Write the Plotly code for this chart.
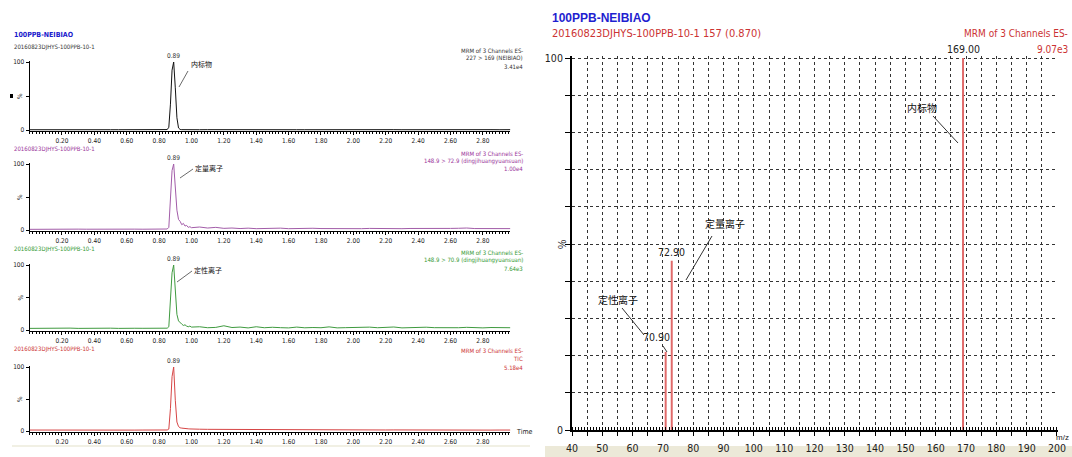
import plotly.graph_objects as go

W, H = 1072, 457
NARROW = "Liberation Sans Narrow, Arial Narrow, DejaVu Sans Condensed, Arial, sans-serif"
SANS = "Liberation Sans, Arial, sans-serif"
CJK = "Noto Sans CJK SC, sans-serif"

# ---------------- chromatogram data (retention time in min, relative intensity %) ----------------
TIME = [0.00, 0.05, 0.10, 0.15, 0.20, 0.25, 0.30, 0.35, 0.40, 0.45, 0.50, 0.55, 0.60, 0.65, 0.70, 0.75, 0.80, 0.85,
        0.86, 0.87, 0.88, 0.89, 0.90, 0.91, 0.92, 0.93, 0.94, 0.95, 0.96, 0.97, 0.98, 0.99, 1.00,
        1.05, 1.10, 1.15, 1.20, 1.25, 1.30, 1.35, 1.40, 1.45, 1.50, 1.55, 1.60, 1.65, 1.70, 1.75, 1.80, 1.85, 1.90,
        1.95, 2.00, 2.05, 2.10, 2.15, 2.20, 2.25, 2.30, 2.35, 2.40, 2.45, 2.50, 2.55, 2.60, 2.65, 2.70, 2.75, 2.80,
        2.85, 2.90, 2.95, 2.97]

NEIBIAO = [0.4, 0.5, 0.4, 0.5, 0.4, 0.4, 0.5, 0.4, 0.4, 0.5, 0.4, 0.4, 0.5, 0.4, 0.4, 0.5, 0.4, 0.6,
           4, 38, 88, 100, 62, 18, 3, 0.8, 0.5, 0.4, 0.5, 0.4, 0.5, 0.4, 0.5,
           0.4, 0.5, 0.4, 0.4, 0.5, 0.4, 0.5, 0.4, 0.4, 0.5, 0.4, 0.5, 0.4, 0.4, 0.5, 0.4, 0.5, 0.4, 0.4, 0.5,
           0.4, 0.5, 0.4, 0.4, 0.5, 0.4, 0.5, 0.4, 0.4, 0.5, 0.4, 0.5, 0.4, 0.4, 0.5, 0.4, 0.5, 0.4, 0.4, 0.5]

QUANT_729 = [1.0, 1.2, 1.1, 1.3, 1.2, 1.1, 1.3, 1.2, 1.4, 1.2, 1.3, 1.2, 1.4, 1.3, 1.2, 1.4, 1.3, 1.5,
             4, 42, 90, 100, 58, 30, 16, 13, 8, 10, 6, 7, 4, 5, 3.5,
             4.5, 3.0, 4.0, 2.5, 3.0, 2.2, 2.8, 2.0, 2.5, 2.2, 2.8, 2.0, 2.4, 2.1, 2.6, 2.2, 2.0, 2.5, 2.2, 2.3,
             2.0, 2.4, 2.1, 2.6, 2.2, 2.0, 2.3, 2.1, 2.5, 2.2, 2.0, 2.4, 2.6, 3.0, 2.2, 2.1, 2.4, 2.0, 2.2, 2.1]

QUAL_709 = [2.5, 2.8, 2.4, 3.0, 2.6, 2.9, 2.5, 2.7, 3.1, 2.6, 2.8, 2.5, 3.0, 2.7, 2.6, 2.9, 2.5, 2.8,
            5, 40, 88, 100, 62, 24, 14, 11, 9, 7, 8, 6, 5, 6, 4.5,
            5.0, 3.5, 4.0, 6.5, 3.8, 4.5, 3.2, 5.0, 3.5, 4.2, 3.6, 3.2, 4.5, 3.4, 3.8, 3.5, 4.8, 3.3, 3.6, 3.9,
            3.2, 4.4, 3.5, 3.8, 4.6, 3.3, 3.9, 3.4, 4.3, 3.6, 3.2, 3.7, 3.5, 4.1, 3.4, 3.3, 3.8, 3.6, 4.2, 3.5]

TIC = [1.5, 1.4, 1.5, 1.5, 1.4, 1.5, 1.5, 1.4, 1.5, 1.5, 1.4, 1.5, 1.5, 1.4, 1.5, 1.5, 1.4, 1.6,
       3, 35, 85, 100, 48, 14, 7, 5, 4.5, 4, 3.8, 3.5, 3.4, 3.2, 3.0,
       2.8, 2.6, 2.5, 2.7, 2.4, 2.5, 2.3, 2.4, 2.2, 2.3, 2.1, 2.2, 2.0, 2.1, 2.0, 1.9, 2.0, 1.8, 1.9, 1.8,
       1.7, 1.8, 1.7, 1.6, 1.7, 1.6, 1.6, 1.5, 1.6, 1.5, 1.5, 1.6, 1.5, 1.4, 1.5, 1.5, 1.4, 1.5, 1.4, 1.5]

TIME_TICKS = [0.2, 0.4, 0.6, 0.8, 1.0, 1.2, 1.4, 1.6, 1.8, 2.0, 2.2, 2.4, 2.6, 2.8]

# ---------------- mass spectrum data (scan 157, 0.870 min) ----------------
MZ = [70.90, 72.90, 169.00]
INTENSITY = [21.0, 45.5, 100.0]
MZ_TICKS = [40, 50, 60, 70, 80, 90, 100, 110, 120, 130, 140, 150, 160, 170, 180, 190, 200]

SAMPLE = "20160823DJHYS-100PPB-10-1"


def px(x):
    return x / W


def py(y):
    return 1 - y / H


def text(x, y, s, size, color, anchor="left", family=NARROW, bold=False, angle=0):
    if bold:
        s = "<b>" + s + "</b>"
    return dict(x=px(x), y=py(y), xref="paper", yref="paper", text=s, showarrow=False,
                xanchor=anchor, yanchor="middle", textangle=angle,
                font=dict(family=family, size=size, color=color))


def seg(x0, y0, x1, y1, color="#333", width=1):
    return dict(type="line", xref="paper", yref="paper", x0=px(x0), y0=py(y0), x1=px(x1), y1=py(y1),
                line=dict(color=color, width=width))


panels = [
    dict(y=NEIBIAO, line="#111111", txt="#333333", p0=130, p100=62, sub_y=47, info_y=[50, 58, 66],
         info=["MRM of 3 Channels ES-", "227 > 169 (NEIBIAO)", "3.41e4"],
         note="内标物", note_xy=(189, 64), lead=(188, 71, 179, 87)),
    dict(y=QUANT_729, line="#a25ca8", txt="#993399", p0=230, p100=164, sub_y=149, info_y=[153, 161, 169],
         info=["MRM of 3 Channels ES-", "148.9 > 72.9 (dingjihuangyuansuan)", "1.00e4"],
         note="定量离子", note_xy=(193, 168), lead=(193, 169, 180, 178)),
    dict(y=QUAL_709, line="#3f9a3f", txt="#339933", p0=330, p100=265, sub_y=249, info_y=[252, 260, 268],
         info=["MRM of 3 Channels ES-", "148.9 > 70.9 (dingjihuangyuansuan)", "7.64e3"],
         note="定性离子", note_xy=(192, 270), lead=(192, 271, 177, 282)),
    dict(y=TIC, line="#d64545", txt="#cc3333", p0=431, p100=367, sub_y=349, info_y=[350, 358, 367],
         info=["MRM of 3 Channels ES-", "TIC", "5.18e4"],
         note=None),
]

fig = go.Figure()
layout = {}
annotations = []
shapes = []

X_LEFT, X_RIGHT, T_MAX = 29.6, 510.4, 2.97
Y_LO, Y_HI = -1.5, 102
SMALL = 6

for i, p in enumerate(panels, start=1):
    sfx = "" if i == 1 else str(i)
    fig.add_trace(go.Scatter(x=TIME, y=p["y"], mode="lines", line=dict(color=p["line"], width=1),
                             xaxis="x" + sfx, yaxis="y" + sfx, hoverinfo="skip", showlegend=False))
    ppu = (p["p0"] - p["p100"]) / 100.0
    bottom = p["p0"] - Y_LO * ppu
    top = p["p100"] - (Y_HI - 100) * ppu
    layout["xaxis" + sfx] = dict(
        domain=[px(X_LEFT), px(X_RIGHT)], range=[0, T_MAX], anchor="y" + sfx,
        tickmode="array", tickvals=TIME_TICKS, ticktext=[f"{t:.2f}" for t in TIME_TICKS],
        ticks="outside", ticklen=3, tickcolor="#000", tickwidth=1,
        minor=dict(tickmode="linear", tick0=0, dtick=0.02, ticks="outside", ticklen=2,
                   tickcolor="#000", showgrid=False),
        showline=True, linecolor="#000", linewidth=1, showgrid=False, zeroline=False,
        tickfont=dict(family=NARROW, size=6.5, color="#222"), fixedrange=True)
    layout["yaxis" + sfx] = dict(
        domain=[py(bottom), py(top)], range=[Y_LO, Y_HI], anchor="x" + sfx,
        tickmode="array", tickvals=[0, 50, 100], ticktext=["0", "", "100"],
        ticks="outside", ticklen=3, tickcolor="#000",
        showline=True, linecolor="#000", linewidth=1, showgrid=False, zeroline=False,
        tickfont=dict(family=NARROW, size=6.5, color="#222"), fixedrange=True)

    # sample name, channel description, peak apex label
    annotations.append(text(12, p["sub_y"], SAMPLE, SMALL, p["txt"]))
    for line_txt, yy in zip(p["info"], p["info_y"]):
        annotations.append(text(525, yy, line_txt, SMALL, p["txt"], anchor="right"))
    annotations.append(text(20, (p["p0"] + p["p100"]) / 2, "%", 6.5, "#222", anchor="center", angle=-90))
    k = p["y"].index(max(p["y"]))
    t_apex = TIME[k]
    annotations.append(dict(x=t_apex, y=max(p["y"]), xref="x" + sfx, yref="y" + sfx,
                            text=f"{t_apex:.2f}", showarrow=False, yanchor="bottom", yshift=0,
                            font=dict(family=NARROW, size=6.5, color="#333")))
    if p["note"]:
        nx, ny = p["note_xy"]
        annotations.append(text(nx, ny, p["note"], 7, "#111", family=CJK))
        shapes.append(seg(*p["lead"], color="#444", width=0.8))

annotations.append(text(12, 35, "100PPB-NEIBIAO", 7, "#1a1acc", bold=True))
annotations.append(text(514, 432, "Time", 7, "#222"))
shapes.append(dict(type="rect", xref="paper", yref="paper", x0=px(10), x1=px(13), y0=py(98), y1=py(94),
                   fillcolor="#000", line=dict(width=0)))
shapes.append(dict(type="rect", xref="paper", yref="paper", x0=px(12), x1=px(530), y0=py(447), y1=py(445),
                   fillcolor="#f1f0e4", line=dict(width=0)))

# ---------------- mass spectrum ----------------
SPEC_X0, SPEC_X1 = 572, 1057.6
SPEC_P0, SPEC_P100 = 430, 58
spec_lo, spec_hi = 0, 100.5
ppu = (SPEC_P0 - SPEC_P100) / 100.0
xs, ys = [], []
for m, v in zip(MZ, INTENSITY):
    xs += [m, m, None]
    ys += [0, v, None]
fig.add_trace(go.Scatter(x=xs, y=ys, mode="lines", line=dict(color="#e06a6a", width=2),
                         xaxis="x5", yaxis="y5", hoverinfo="skip", showlegend=False))

major5 = list(range(40, 201, 5))
layout["xaxis5"] = dict(
    domain=[px(SPEC_X0), px(SPEC_X1)], range=[40, 200.2], anchor="y5",
    tickmode="array", tickvals=major5, ticktext=[str(v) if v in MZ_TICKS else "" for v in major5],
    ticks="outside", ticklen=4, tickcolor="#000", ticklabelstandoff=3,
    minor=dict(tickmode="linear", tick0=40, dtick=1, ticks="inside", ticklen=3, tickcolor="#000",
               showgrid=False),
    showgrid=True, gridcolor="#333", gridwidth=1, griddash="3px,3px",
    showline=True, linecolor="#000", linewidth=2, zeroline=False,
    tickfont=dict(family=NARROW, size=10.5, color="#222"), fixedrange=True)
layout["yaxis5"] = dict(
    domain=[py(SPEC_P0), py(SPEC_P100 - (spec_hi - 100) * ppu)], range=[spec_lo, spec_hi], anchor="x5",
    tickmode="array", tickvals=list(range(0, 101, 10)),
    ticktext=["0"] + [""] * 9 + ["100"],
    ticks="outside", ticklen=5, tickcolor="#000",
    showgrid=True, gridcolor="#333", gridwidth=1, griddash="3px,3px",
    showline=True, linecolor="#000", linewidth=2, zeroline=False,
    tickfont=dict(family=NARROW, size=10.5, color="#222"), fixedrange=True)

for m, v in zip(MZ, INTENSITY):
    dx = -9 if m == 70.90 else 0
    annotations.append(dict(x=m, y=v, xref="x5", yref="y5", text=f"{m:.2f}", showarrow=False,
                            yanchor="bottom", xshift=dx, yshift=1 if m != 70.90 else 7,
                            font=dict(family=NARROW, size=10.5, color="#222")))

annotations.append(text(550, 18, "100PPB-NEIBIAO", 12, "#1f1fd0", family=SANS, bold=True))
annotations.append(text(550, 34, SAMPLE + " 157 (0.870)", 11, "#cc3333", family=NARROW))
annotations.append(text(1070, 34, "MRM of 3 Channels ES-", 10, "#cc3333", anchor="right", family=NARROW))
annotations.append(text(1070, 49, "9.07e3", 10, "#cc3333", anchor="right", family=NARROW))
annotations.append(text(562, 245, "%", 10.5, "#222", anchor="center", angle=-90, family=SANS))
annotations.append(text(1071, 437, "m/z", 8, "#222", anchor="right", family=SANS))

annotations.append(text(905, 107, "内标物", 10, "#111", family=CJK))
shapes.append(seg(933, 116, 958, 143, color="#333"))
annotations.append(text(703, 224, "定量离子", 10, "#111", family=CJK))
shapes.append(seg(712, 236, 686, 280, color="#333"))
annotations.append(text(596, 299, "定性离子", 10, "#111", family=CJK))
shapes.append(seg(622, 308, 644, 335, color="#333"))
shapes.append(seg(663, 346, 667, 352, color="#333"))

shapes.append(dict(type="rect", xref="paper", yref="paper", x0=px(545), x1=px(1072), y0=py(457), y1=py(446),
                   fillcolor="#ece9d8", line=dict(width=0), layer="below"))

fig.update_layout(
    width=W, height=H, margin=dict(l=0, r=0, t=0, b=0, autoexpand=False),
    paper_bgcolor="#ffffff", plot_bgcolor="rgba(0,0,0,0)",
    annotations=annotations, shapes=shapes, showlegend=False,
    **layout)

fig.write_html("out.html", config={"displayModeBar": False})
